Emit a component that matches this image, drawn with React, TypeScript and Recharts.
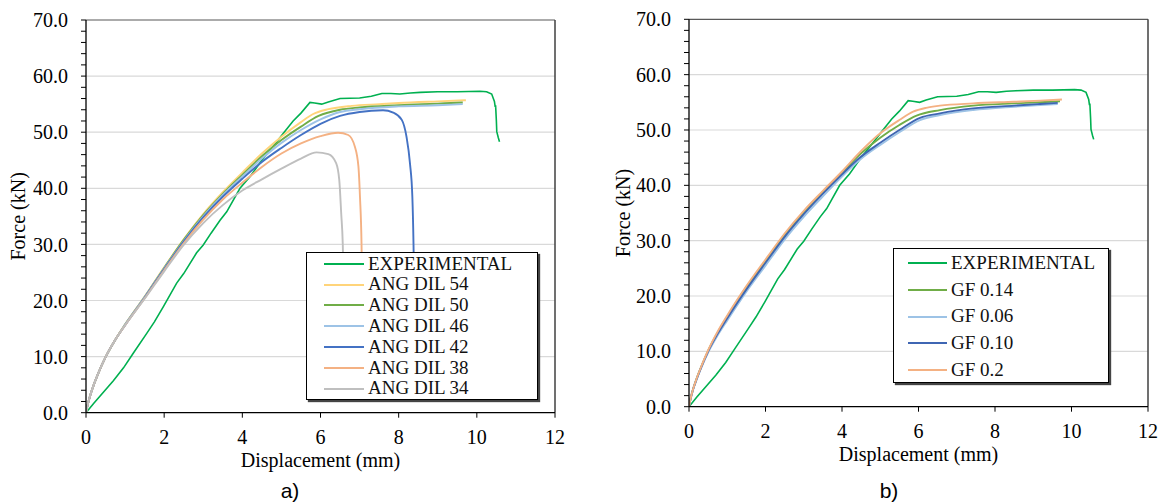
import React from 'react';
import { LineChart, Line, XAxis, YAxis, CartesianGrid, ReferenceLine } from 'recharts';

type P = [number, number];

// ---------- data (displacement mm, force kN) ----------
const EXPERIMENTAL: P[] = [
  [0, 0], [0.2, 1.7], [0.45, 3.7], [0.7, 5.7], [0.96, 8.0], [1.2, 10.5], [1.55, 14.1], [1.75, 16.2], [1.98, 18.9],
  [2.32, 23.1], [2.5, 24.8], [2.83, 28.5], [3.0, 29.9], [3.2, 32.0], [3.43, 34.3], [3.6, 35.8], [3.94, 40.0],
  [4.2, 42.1], [4.5, 45.0], [4.8, 47.6], [5.05, 49.8], [5.3, 52.0], [5.5, 53.4], [5.73, 55.3], [5.85, 55.2],
  [6.03, 55.0], [6.2, 55.4], [6.5, 56.0], [7.0, 56.1], [7.3, 56.4], [7.57, 56.9], [7.8, 56.9], [8.03, 56.8],
  [8.3, 57.0], [8.55, 57.1], [9.0, 57.2], [9.5, 57.2], [10.08, 57.3], [10.25, 57.2], [10.38, 56.8],
  [10.45, 55.5], [10.47, 54.5], [10.48, 54.8], [10.5, 52.0], [10.51, 50.1], [10.55, 49.0], [10.58, 48.3],
];

const ANG_DIL_54: P[] = [
  [0, 0], [0.05, 1.6], [0.1, 2.9], [0.2, 5.0], [0.3, 6.8], [0.5, 9.9], [0.75, 13.0], [1.0, 15.7],
  [1.5, 20.7], [2.0, 25.9], [2.5, 30.9], [3.0, 35.4], [3.5, 39.3], [4.0, 42.8], [4.5, 46.2], [5.0, 49.2],
  [5.5, 51.8], [5.8, 53.2], [6.2, 54.1], [6.8, 54.7], [7.5, 55.0], [8.0, 55.2], [9.0, 55.5], [9.72, 55.7],
];
const ANG_DIL_50: P[] = [
  [0, 0], [0.05, 1.6], [0.1, 2.9], [0.2, 5.0], [0.3, 6.8], [0.5, 9.9], [0.75, 13.0], [1.0, 15.7],
  [1.5, 20.6], [2.0, 25.8], [2.5, 30.8], [3.0, 35.2], [3.5, 39.0], [4.0, 42.4], [4.5, 45.7], [5.0, 48.6],
  [5.5, 51.0], [5.95, 52.9], [6.5, 54.0], [7.0, 54.4], [8.0, 54.8], [9.0, 55.1], [9.64, 55.3],
];
const ANG_DIL_46: P[] = [
  [0, 0], [0.05, 1.6], [0.1, 2.9], [0.2, 5.0], [0.3, 6.8], [0.5, 9.9], [0.75, 13.0], [1.0, 15.7],
  [1.5, 20.6], [2.0, 25.7], [2.5, 30.6], [3.0, 35.0], [3.5, 38.8], [4.0, 42.1], [4.5, 45.3], [5.0, 48.1],
  [5.5, 50.4], [6.0, 52.3], [6.5, 53.6], [7.0, 54.1], [8.0, 54.6], [9.0, 54.8], [9.64, 55.0],
];
const ANG_DIL_42: P[] = [
  [0, 0], [0.05, 1.6], [0.1, 2.9], [0.2, 5.0], [0.3, 6.8], [0.5, 9.9], [0.75, 13.0], [1.0, 15.6],
  [1.5, 20.5], [2.0, 25.6], [2.5, 30.5], [3.0, 34.8], [3.5, 38.5], [4.0, 41.7], [4.5, 44.7], [5.0, 47.2],
  [5.5, 49.5], [6.0, 51.5], [6.5, 52.9], [7.0, 53.6], [7.6, 53.9], [7.86, 53.5], [8.08, 52.2], [8.2, 49.2],
  [8.29, 44.4], [8.35, 38.5], [8.38, 30.0], [8.4, 20.0],
];
const ANG_DIL_38: P[] = [
  [0, 0], [0.05, 1.6], [0.1, 2.9], [0.2, 5.0], [0.3, 6.8], [0.5, 9.9], [0.75, 13.0], [1.0, 15.6],
  [1.5, 20.4], [2.0, 25.4], [2.5, 30.2], [3.0, 34.4], [3.5, 38.0], [4.0, 41.0], [4.5, 43.8], [5.0, 46.2],
  [5.5, 48.0], [6.0, 49.3], [6.45, 49.9], [6.71, 49.5], [6.88, 47.4], [6.97, 43.9], [7.01, 38.5],
  [7.05, 30.0], [7.07, 20.0],
];
const ANG_DIL_34: P[] = [
  [0, 0], [0.05, 1.6], [0.1, 2.9], [0.2, 5.0], [0.3, 6.8], [0.5, 9.9], [0.75, 13.0], [1.0, 15.6],
  [1.5, 20.3], [2.0, 25.2], [2.5, 29.9], [3.0, 33.8], [3.5, 37.0], [4.0, 39.6], [4.5, 41.6], [5.0, 43.5],
  [5.5, 45.3], [5.9, 46.4], [6.2, 46.1], [6.4, 44.5], [6.48, 41.5], [6.53, 35.5], [6.57, 30.0], [6.6, 20.0],
];

const GF_014: P[] = [
  [0, 0], [0.05, 1.7], [0.1, 3.0], [0.2, 5.1], [0.3, 6.9], [0.5, 10.1], [0.75, 13.4], [1.0, 16.3],
  [1.5, 21.6], [2.0, 26.3], [2.5, 31.0], [3.0, 35.1], [3.5, 38.8], [4.0, 42.3], [4.5, 45.8], [5.0, 48.6],
  [5.5, 50.9], [5.95, 52.6], [6.56, 53.6], [7.43, 54.4], [8.5, 54.8], [9.18, 55.0], [9.7, 55.2],
];
const GF_006: P[] = [
  [0, 0], [0.05, 1.6], [0.1, 2.9], [0.2, 4.9], [0.3, 6.7], [0.5, 9.8], [0.75, 12.9], [1.0, 15.6],
  [1.5, 20.8], [2.0, 25.5], [2.5, 30.2], [3.0, 34.3], [3.5, 38.0], [4.0, 41.6], [4.5, 44.8], [5.0, 47.3],
  [5.5, 49.6], [6.04, 51.8], [6.56, 52.7], [7.43, 53.6], [8.5, 54.2], [9.18, 54.5], [9.64, 54.7],
];
const GF_010: P[] = [
  [0, 0], [0.05, 1.7], [0.1, 3.0], [0.2, 5.0], [0.3, 6.8], [0.5, 10.0], [0.75, 13.2], [1.0, 16.0],
  [1.5, 21.2], [2.0, 26.0], [2.5, 30.7], [3.0, 34.8], [3.5, 38.5], [4.0, 42.0], [4.5, 45.2], [5.0, 47.7],
  [5.5, 50.0], [6.04, 52.2], [6.56, 53.0], [7.43, 53.9], [8.5, 54.4], [9.18, 54.7], [9.64, 54.9],
];
const GF_02: P[] = [
  [0, 0], [0.05, 1.7], [0.1, 3.0], [0.2, 5.1], [0.3, 6.9], [0.5, 10.2], [0.75, 13.6], [1.0, 16.5],
  [1.5, 21.8], [2.0, 26.6], [2.5, 31.3], [3.0, 35.4], [3.5, 39.0], [4.0, 42.5], [4.5, 46.2], [5.0, 49.4],
  [5.5, 51.8], [5.86, 53.3], [6.2, 54.0], [6.56, 54.4], [7.43, 54.8], [8.5, 55.1], [9.18, 55.3], [9.75, 55.5],
];

const LEFT_NAMES = ['EXPERIMENTAL', 'ANG DIL 54', 'ANG DIL 50', 'ANG DIL 46', 'ANG DIL 42', 'ANG DIL 38', 'ANG DIL 34'];
const LEFT_COLORS = ['#00B050', '#FFD47A', '#70AD47', '#9DC3E6', '#4472C4', '#F4B183', '#BFBFBF'];
const LEFT_DATA = [EXPERIMENTAL, ANG_DIL_54, ANG_DIL_50, ANG_DIL_46, ANG_DIL_42, ANG_DIL_38, ANG_DIL_34];

const RIGHT_NAMES = ['EXPERIMENTAL', 'GF 0.14', 'GF 0.06', 'GF 0.10', 'GF 0.2'];
const RIGHT_COLORS = ['#00B050', '#70AD47', '#9DC3E6', '#3F66B3', '#F4B183'];
const RIGHT_DATA = [EXPERIMENTAL, GF_014, GF_006, GF_010, GF_02];

const X_TICKS = [0, 2, 4, 6, 8, 10, 12];
const Y_TICKS = [0, 2, 4, 6, 8, 10, 12, 14, 16, 18, 20, 22, 24, 26, 28, 30, 32, 34, 36, 38, 40, 42, 44, 46, 48, 50, 52, 54, 56, 58, 60, 62, 64, 66, 68, 70];
const GRID_VALUES = [10, 20, 30, 40, 50, 60];
const X_MAX = 12;
const Y_MAX = 70;
const X_TITLE = 'Displacement (mm)';
const Y_TITLE = 'Force (kN)';

const SERIF = '"Liberation Serif", "Times New Roman", serif';
const SANS = '"Liberation Sans", Arial, sans-serif';

const toPts = (arr: P[]) => arr.map(([x, y]) => ({ x, y }));

interface PanelProps {
  left: number;
  width: number;
  margin: { top: number; right: number; bottom: number; left: number };
  yAxisWidth: number;
  yTitleX: number;
  names: string[];
  colors: string[];
  data: P[][];
}

function Panel({ left, width, margin, yAxisWidth, yTitleX, names, colors, data }: PanelProps) {
  return (
    <div style={{ position: 'absolute', left, top: 0 }}>
      <LineChart width={width} height={502} margin={margin}>
        <CartesianGrid horizontal vertical={false} horizontalValues={GRID_VALUES} stroke="#D9D9D9" strokeWidth={1.2} />
        <XAxis
          type="number"
          dataKey="x"
          domain={[0, X_MAX]}
          ticks={X_TICKS}
          allowDataOverflow
          height={56}
          tickSize={5}
          tickMargin={12}
          axisLine={{ stroke: '#000', strokeWidth: 1.3 }}
          tickLine={{ stroke: '#000' }}
          tick={{ fill: '#000', fontSize: 20, fontFamily: SERIF }}
          label={{ value: X_TITLE, position: 'insideBottom', offset: 2, fill: '#000', fontSize: 20, fontFamily: SERIF }}
        />
        <YAxis
          type="number"
          dataKey="y"
          domain={[0, Y_MAX]}
          ticks={Y_TICKS}
          interval={0}
          allowDataOverflow
          width={yAxisWidth}
          tickSize={5}
          tickMargin={13}
          axisLine={{ stroke: '#000', strokeWidth: 1.3 }}
          tickLine={{ stroke: '#000' }}
          tick={{ fill: '#000', fontSize: 20, fontFamily: SERIF }}
          tickFormatter={(v: number) => (v % 10 === 0 ? v.toFixed(1) : '')}
          label={{
            content: (p: any) => {
              const vb = p.viewBox || {};
              const cy = (vb.y ?? margin.top) + (vb.height ?? 390) / 2;
              return (
                <text
                  x={yTitleX}
                  y={cy}
                  transform={`rotate(-90, ${yTitleX}, ${cy})`}
                  textAnchor="middle"
                  dominantBaseline="central"
                  fill="#000"
                  fontSize={20}
                  fontFamily={SERIF}
                >
                  {Y_TITLE}
                </text>
              );
            },
          }}
        />
        <ReferenceLine y={Y_MAX} stroke="#595959" strokeWidth={1.2} />
        <ReferenceLine x={X_MAX} stroke="#404040" strokeWidth={1.5} />
        {data.map((d, i) => (
          <Line
            key={names[i]}
            data={toPts(d)}
            dataKey="y"
            name={names[i]}
            type={i === 0 ? 'linear' : 'monotone'}
            stroke={colors[i]}
            strokeWidth={i === 0 ? 1.6 : 1.9}
            dot={false}
            activeDot={false}
            isAnimationActive={false}
          />
        ))}
      </LineChart>
    </div>
  );
}

interface LegendProps {
  names: string[];
  colors: string[];
  left: number;
  top: number;
  width: number;
  height: number;
  rowH: number;
  padTop: number;
  lineLeft: number;
  lineW: number;
  textLeft: number;
  fontSize: number;
}

function LegendBox({ names, colors, left, top, width, height, rowH, padTop, lineLeft, lineW, textLeft, fontSize }: LegendProps) {
  return (
    <div
      style={{
        position: 'absolute',
        left,
        top,
        width,
        height,
        boxSizing: 'border-box',
        border: '1px solid #000',
        boxShadow: '2px 2px 1px #444',
        background: '#fff',
        zIndex: 5,
        fontFamily: SERIF,
        fontSize,
        color: '#111',
      }}
    >
      {names.map((n, i) => (
        <div
          key={n}
          style={{ position: 'absolute', left: 0, top: padTop + i * rowH, height: rowH, width: '100%' }}
        >
          <div
            style={{
              position: 'absolute',
              left: lineLeft,
              top: rowH / 2 - 1,
              width: lineW,
              height: 2,
              background: colors[i],
            }}
          />
          <div
            style={{
              position: 'absolute',
              left: textLeft,
              top: 0,
              height: rowH,
              lineHeight: `${rowH}px`,
              whiteSpace: 'nowrap',
            }}
          >
            {n}
          </div>
        </div>
      ))}
    </div>
  );
}

export default function App() {
  return (
    <div style={{ position: 'absolute', left: 0, top: 0, width: 1162, height: 502, background: '#fff', overflow: 'hidden' }}>
      <Panel
        left={0}
        width={580}
        margin={{ top: 20, right: 25, bottom: 33.3, left: 0 }}
        yAxisWidth={86}
        yTitleX={18.5}
        names={LEFT_NAMES}
        colors={LEFT_COLORS}
        data={LEFT_DATA}
      />
      <Panel
        left={580}
        width={582}
        margin={{ top: 19.3, right: 14, bottom: 39.3, left: 0 }}
        yAxisWidth={109}
        yTitleX={42.8}
        names={RIGHT_NAMES}
        colors={RIGHT_COLORS}
        data={RIGHT_DATA}
      />
      <LegendBox
        names={LEFT_NAMES}
        colors={LEFT_COLORS}
        left={306}
        top={252}
        width={232}
        height={148}
        rowH={20.8}
        padTop={0.5}
        lineLeft={17}
        lineW={40}
        textLeft={61}
        fontSize={19}
      />
      <LegendBox
        names={RIGHT_NAMES}
        colors={RIGHT_COLORS}
        left={893}
        top={248}
        width={216}
        height={135}
        rowH={26.7}
        padTop={1}
        lineLeft={14}
        lineW={39}
        textLeft={57}
        fontSize={19}
      />
      <div style={{ position: 'absolute', left: 290, top: 479, transform: 'translateX(-50%)', fontFamily: SANS, fontSize: 21, color: '#000' }}>a)</div>
      <div style={{ position: 'absolute', left: 889, top: 479, transform: 'translateX(-50%)', fontFamily: SANS, fontSize: 21, color: '#000' }}>b)</div>
    </div>
  );
}
